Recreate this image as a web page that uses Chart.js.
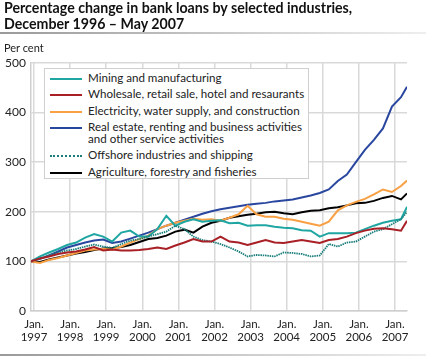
<!DOCTYPE html>
<html>
<head>
<meta charset="utf-8">
<script src="https://cdn.jsdelivr.net/npm/chart.js@4/dist/chart.umd.min.js"></script>
<style>
  html, body { margin: 0; padding: 0; background: #fff; }
  #wrap { position: relative; width: 426px; height: 357px; overflow: hidden; font-family: Lato, "Open Sans", sans-serif; color: #1a1a1a; }
  #c { position: absolute; left: 0; top: 0; }
  #title { position: absolute; left: 4px; top: 0px; font-size: 14.2px; font-weight: bold; line-height: 16px; color: #111; }
  #sep { position: absolute; left: 0; top: 32px; width: 426px; height: 2px; background: linear-gradient(to right, #9a9a9a, #cfcfcf 60%, #eeeeee); }
  #unit { position: absolute; left: 4px; top: 41px; font-size: 11px; color: #222; }
  #bottom { position: absolute; left: 0; top: 354px; width: 426px; height: 2px; background: linear-gradient(to right, #9a9a9a, #cfcfcf 60%, #eeeeee); }
  #legend { position: absolute; left: 44px; top: 68px; width: 265px; height: 111px; background: #fff; border: 1px solid #cfcfcf; box-sizing: border-box; }
  .item { position: absolute; left: 0; font-size: 11.6px; line-height: 12px; color: #222; }
  .sw { position: absolute; left: 5px; width: 32px; height: 0; }
  .lbl { position: absolute; left: 43px; white-space: nowrap; }
</style>
</head>
<body>
<div id="wrap">
  <canvas id="c" width="426" height="357"></canvas>
  <div id="title">Percentage change in bank loans by selected industries,<br>December 1996 – May 2007</div>
  <div id="sep"></div>
  <div id="unit">Per cent</div>
  <div id="legend"></div>
  <div id="bottom"></div>
</div>
<script>
// Month offsets from December 1996 (0 = Dec 1996, 125 = May 2007)
const months = [0,3,6,9,12,15,18,21,24,27,30,33,36,39,42,45,48,51,54,57,60,63,66,69,72,75,78,81,84,87,90,93,96,99,102,105,108,111,114,117,120,123,125];

const mining = [100,110,118,125,133,138,148,155,150,140,158,162,150,150,165,192,172,180,185,180,182,183,177,178,172,173,173,170,168,167,163,162,150,157,157,157,158,165,172,178,182,185,210];
const wholesale = [100,106,110,115,118,120,124,129,122,124,122,122,123,125,128,125,132,138,145,140,140,150,140,138,133,138,143,138,137,140,143,140,137,143,145,150,157,162,166,167,165,162,182];
const electricity = [100,97,103,107,112,117,122,124,125,124,130,138,145,152,165,172,178,182,186,184,185,182,188,195,212,195,190,190,186,184,180,176,172,180,203,213,220,226,235,245,240,252,263];
const realEstate = [100,105,112,120,128,133,138,142,144,137,140,146,152,158,165,172,178,184,190,196,201,205,208,211,214,216,218,221,223,225,229,233,238,245,262,275,300,325,345,368,412,431,452];
const offshore = [100,106,112,118,122,125,130,134,130,127,135,142,145,150,155,160,172,165,150,143,140,135,128,120,110,113,112,110,118,117,115,110,112,135,130,138,140,150,160,165,175,185,200];
const agriculture = [100,99,104,108,112,116,119,123,126,127,129,133,139,145,147,152,160,164,158,170,178,182,188,191,194,196,199,200,197,195,199,202,203,207,209,213,217,218,222,228,232,225,237];

const seriesNames = ["Mining and manufacturing","Wholesale, retail sale, hotel and resaurants","Electricity, water supply, and construction","Real estate, renting and business activities\nand other service activities","Offshore industries and shipping","Agriculture, forestry and fisheries"];
const seriesColors = ["#1fa6a2","#a81f26","#f8a043","#2a47a0","#1a7f7b","#000000"];
const seriesValues = [mining, wholesale, electricity, realEstate, offshore, agriculture];

const tickPositions = [1,13,25,37,49,61,73,85,97,109,121];
const tickYears = ["1997","1998","1999","2000","2001","2002","2003","2004","2005","2006","2007"];
const yTicks = [0,100,200,300,400,500];

// draw order: later datasets sit on top
const drawOrder = [1,4,0,2,3,5];

const datasets = drawOrder.map(i => ({
  label: seriesNames[i],
  data: months.map((m, k) => ({x: m, y: seriesValues[i][k]})),
  borderColor: seriesColors[i],
  borderWidth: i === 4 ? 1.8 : 2,
  borderDash: i === 4 ? [1.5, 0.8] : [],
  pointRadius: 0,
  tension: 0,
  fill: false
}));

new Chart(document.getElementById('c'), {
  type: 'line',
  data: { datasets },
  options: {
    responsive: false,
    animation: false,
    layout: { padding: { top: 63, right: 19, left: 0, bottom: 0 } },
    plugins: { legend: { display: false }, title: { display: false }, tooltip: { enabled: false } },
    scales: {
      x: {
        type: 'linear',
        min: 0, max: 125,
        afterBuildTicks: s => { s.ticks = tickPositions.map(v => ({value: v})); },
        afterFit: s => { s.height = 46; },
        ticks: {
          autoSkip: false, maxRotation: 0, padding: 6,
          font: { family: 'Lato', size: 11.5 }, color: '#222',
          callback: (v) => { const i = tickPositions.indexOf(v); return i >= 0 ? ["Jan.", tickYears[i]] : ""; }
        },
        grid: { color: '#d9d9d9', lineWidth: 1.5, drawTicks: false },
        border: { display: true, color: '#cfcfcf', width: 1.5 }
      },
      y: {
        min: 0, max: 500,
        afterBuildTicks: s => { s.ticks = yTicks.map(v => ({value: v})); },
        afterFit: s => { s.width = 31; },
        ticks: { padding: 5, font: { family: 'Lato', size: 12 }, color: '#222' },
        grid: { color: '#d9d9d9', lineWidth: 1.5, drawTicks: false },
        border: { display: true, color: '#cfcfcf', width: 1.5 }
      }
    }
  }
});

// HTML legend built from the series names / colours
const legend = document.getElementById('legend');
const legendTops = [3, 19, 36, 52, 80, 97];
seriesNames.forEach((name, i) => {
  const item = document.createElement('div');
  item.className = 'item';
  item.style.top = legendTops[i] + 'px';
  const sw = document.createElement('div');
  sw.className = 'sw';
  sw.style.top = '6px';
  sw.style.borderTop = (i === 4 ? '2px dotted ' : '2px solid ') + seriesColors[i];
  const lbl = document.createElement('div');
  lbl.className = 'lbl';
  lbl.innerHTML = name.replace('\n', '<br>');
  item.appendChild(sw);
  item.appendChild(lbl);
  legend.appendChild(item);
});
</script>
</body>
</html>
